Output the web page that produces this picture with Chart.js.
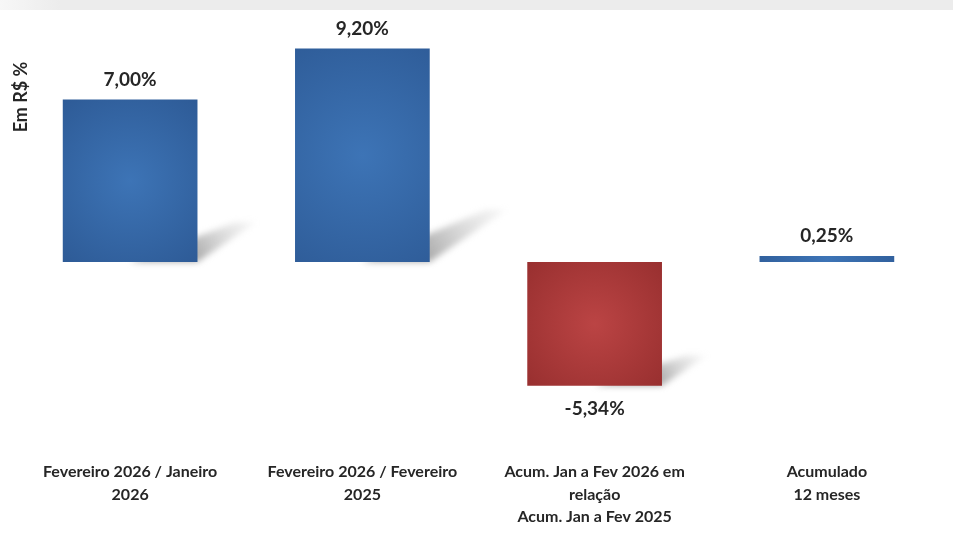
<!DOCTYPE html>
<html>
<head>
<meta charset="utf-8">
<script src="https://cdn.jsdelivr.net/npm/chart.js@4.4.1/dist/chart.umd.min.js"></script>
<style>
  html, body { margin: 0; padding: 0; background: #fff; }
  #wrap { position: relative; width: 953px; height: 538px; }
  #strip { position: absolute; left: 0; top: 0; width: 953px; height: 10px;
    background: linear-gradient(to right, #f7f7f7 0px, #ececec 60px, #ececec 100%); }
</style>
</head>
<body>
<div id="wrap">
  <div id="strip"></div>
  <canvas id="myChart" width="953" height="538"></canvas>
</div>
<script>
'use strict';

// data
let categories = [
  ['Fevereiro 2026 / Janeiro', '2026'],
  ['Fevereiro 2026 / Fevereiro', '2025'],
  ['Acum. Jan a Fev 2026 em', 'relação', 'Acum. Jan a Fev 2025'],
  ['Acumulado', '12 meses']
];
let values = [7.00, 9.20, -5.34, 0.25];
let yTitle = 'Em R$ %';
let yMin = -7.8;
let yMax = 10;

let textColor = '#262626';
let fontFamily = 'Lato, "Open Sans", sans-serif';

function fmt(v){
  return v.toFixed(2).replace('.', ',') + '%';
}

function barColor(context){
  let chart = context.chart;
  let v = values[context.dataIndex];
  let neg = v < 0;
  if (!chart.chartArea) return neg ? '#a83636' : '#3465a4';
  let x = chart.scales.x.getPixelForValue(context.dataIndex);
  let y0 = chart.scales.y.getPixelForValue(0);
  let y1 = chart.scales.y.getPixelForValue(v);
  let cy = (y0 + y1) / 2;
  let r = Math.max(Math.abs(y1 - y0), 135) * 0.72;
  let g = chart.ctx.createRadialGradient(x, cy, 0, x, cy, r);
  if (neg) {
    g.addColorStop(0, '#bb4444');
    g.addColorStop(1, '#962e2e');
  } else {
    g.addColorStop(0, '#3d74b6');
    g.addColorStop(1, '#2c5893');
  }
  return g;
}

// soft diagonal shadow behind each bar
let shadowPlugin = {
  id: 'barShadow',
  beforeDatasetsDraw(chart){
    let c = chart.ctx;
    chart.getDatasetMeta(0).data.forEach(function(bar){
      let p = bar.getProps(['x', 'y', 'base', 'width'], true);
      let top = Math.min(p.y, p.base);
      let bottom = Math.max(p.y, p.base);
      let h = bottom - top;
      if (h < 20) return;
      let x1 = p.x + p.width / 2;
      let dx = h * 0.36, dy = h * 0.245;
      c.save();
      let g = c.createLinearGradient(x1, bottom, x1 + dx, bottom - dy);
      g.addColorStop(0, 'rgba(125,125,125,0.65)');
      g.addColorStop(1, 'rgba(205,205,205,0.15)');
      c.fillStyle = g;
      c.filter = 'blur(3px)';
      c.beginPath();
      c.moveTo(p.x, bottom);
      c.lineTo(x1, bottom);
      c.lineTo(x1 + dx, bottom - dy);
      c.lineTo(x1 + dx - p.width * 0.15, bottom - dy);
      c.closePath();
      c.fill();
      c.restore();
    });
  }
};

// value labels + y title
let labelPlugin = {
  id: 'valueLabels',
  afterDatasetsDraw(chart){
    let c = chart.ctx;
    c.save();
    c.fillStyle = textColor;
    c.font = 'bold 19px ' + fontFamily;
    c.textAlign = 'center';
    c.textBaseline = 'middle';
    chart.getDatasetMeta(0).data.forEach(function(bar, i){
      let p = bar.getProps(['x', 'y', 'base'], true);
      let v = values[i];
      if (v >= 0) {
        c.fillText(fmt(v), p.x, Math.min(p.y, p.base) - 20);
      } else {
        c.fillText(fmt(v), p.x, Math.max(p.y, p.base) + 23);
      }
    });
    c.translate(21, 97);
    c.rotate(-Math.PI / 2);
    c.font = 'bold 18px ' + fontFamily;
    c.fillText(yTitle, 0, 0);
    c.restore();
  }
};

let ctx = document.getElementById('myChart').getContext('2d');
let chart = new Chart(ctx, {
  type: 'bar',
  data: {
    labels: categories,
    datasets: [{
      data: values,
      backgroundColor: barColor,
      borderWidth: 0,
      categoryPercentage: 1.0,
      barPercentage: 0.58
    }]
  },
  options: {
    responsive: false,
    animation: false,
    layout: { padding: { left: 14, right: 10, top: 30, bottom: 0 } },
    plugins: {
      legend: { display: false },
      tooltip: { enabled: false }
    },
    scales: {
      x: {
        grid: { display: false },
        border: { display: false },
        ticks: {
          color: textColor,
          padding: 10,
          maxRotation: 0,
          autoSkip: false,
          font: { family: fontFamily, size: 16, weight: 'bold', lineHeight: 1.4 }
        }
      },
      y: {
        display: false,
        min: yMin,
        max: yMax
      }
    }
  },
  plugins: [shadowPlugin, labelPlugin]
});
</script>
</body>
</html>
